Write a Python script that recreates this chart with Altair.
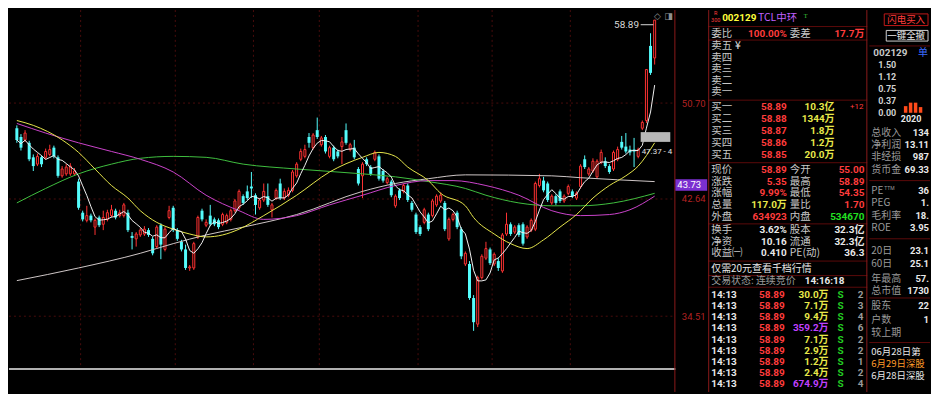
import altair as alt
import pandas as pd

# ======================= DATA =======================
# daily candles
opens = [48.45, 47.69, 47.44, 47.19, 45.97, 45.41, 45.97, 45.97, 46.21, 46.78,
         45.97, 44.46, 44.62, 44.62, 44.62, 44.00, 41.60, 41.03, 41.38, 40.53,
         41.24, 40.74, 41.10, 41.38, 41.75, 41.38, 41.38, 41.60, 39.89, 39.68,
         39.96, 40.03, 40.31, 39.68, 39.13, 40.67, 38.93, 41.24, 41.97, 40.31,
         39.47, 38.93, 37.65, 37.65, 39.82, 41.75, 40.67, 41.38, 41.10, 41.03,
         40.74, 40.88, 41.10, 41.75, 41.97, 42.86, 43.23, 43.61, 42.93, 41.97,
         42.56, 42.86, 41.82, 42.71, 43.85, 42.71, 42.93, 43.31, 44.46, 45.81,
         46.05, 47.69, 46.78, 48.28, 47.03, 47.69, 46.05, 46.78, 46.46, 46.87,
         48.28, 46.62, 46.78, 45.01, 44.46, 45.81, 45.17, 45.81, 46.05, 44.85,
         43.92, 44.00, 42.12, 43.31, 43.23, 43.69, 42.34, 41.46, 40.53, 40.88,
         41.46, 41.38, 42.19, 42.49, 42.34, 39.68, 41.10, 41.60, 40.38, 37.92,
         37.92, 35.66, 34.02, 37.00, 38.32, 38.93, 37.92, 38.12, 37.45, 40.03,
         40.74, 40.17, 40.67, 40.74, 39.82, 40.31, 40.38, 43.69, 44.08, 43.85,
         42.34, 42.86, 43.23, 42.49, 43.08, 43.23, 42.71, 43.61, 45.81, 44.62,
         44.85, 44.38, 45.57, 45.65, 45.25, 45.01, 45.81, 47.27, 46.87, 46.62,
         46.62, 46.05, 48.45, 49.13, 56.21, 55.00]
highs = [48.70, 47.94, 48.28, 47.36, 46.21, 46.29, 46.13, 46.70, 47.03, 46.95,
         46.13, 45.25, 45.41, 45.49, 45.09, 44.23, 41.75, 42.12, 41.53, 41.17,
         41.38, 41.75, 41.82, 42.19, 41.90, 41.82, 42.34, 41.82, 40.17, 40.17,
         40.46, 40.60, 40.46, 39.82, 40.67, 40.81, 40.53, 42.12, 42.12, 40.46,
         39.61, 39.27, 37.85, 39.47, 41.38, 41.90, 41.10, 42.19, 41.24, 41.17,
         41.60, 41.53, 41.90, 42.64, 43.38, 43.00, 43.69, 44.77, 43.08, 42.71,
         43.85, 43.85, 42.34, 43.46, 44.23, 43.46, 43.54, 44.93, 45.57, 46.70,
         47.03, 48.03, 48.03, 49.39, 47.78, 47.86, 46.95, 46.95, 46.62, 47.69,
         48.87, 47.19, 47.44, 45.17, 45.57, 45.97, 45.33, 46.54, 46.21, 45.01,
         44.38, 44.15, 43.00, 43.46, 43.85, 43.85, 42.49, 41.60, 40.67, 41.97,
         41.60, 42.64, 43.00, 43.16, 42.49, 41.24, 41.60, 41.75, 40.53, 38.79,
         38.12, 35.85, 37.13, 38.59, 39.47, 39.06, 38.72, 38.32, 40.10, 41.60,
         40.88, 40.67, 40.81, 40.88, 40.67, 41.17, 44.00, 44.62, 44.38, 44.00,
         43.00, 43.00, 43.38, 43.00, 43.77, 43.38, 43.23, 45.41, 46.13, 45.17,
         45.89, 45.81, 46.62, 45.97, 45.41, 46.54, 46.87, 47.78, 48.03, 46.95,
         47.61, 46.78, 49.13, 53.86, 57.51, 58.89]
lows = [47.19, 46.54, 47.27, 45.65, 44.85, 45.25, 45.17, 45.81, 46.05, 45.89,
        44.31, 44.31, 44.46, 44.46, 44.46, 41.82, 40.95, 40.88, 40.88, 39.96,
        40.53, 40.31, 40.95, 41.24, 41.10, 41.24, 41.24, 40.17, 38.93, 39.13,
        39.82, 39.89, 39.82, 38.52, 39.00, 38.25, 38.79, 41.10, 40.17, 39.54,
        38.79, 37.52, 37.45, 37.52, 39.68, 40.95, 40.53, 40.60, 40.60, 40.38,
        40.60, 40.74, 40.95, 41.60, 41.82, 42.19, 42.56, 42.71, 41.46, 41.82,
        42.41, 42.04, 41.24, 42.56, 42.56, 42.56, 42.78, 43.16, 44.31, 45.65,
        45.89, 46.78, 46.62, 47.52, 46.87, 46.29, 45.89, 45.65, 45.89, 45.41,
        47.03, 46.46, 45.81, 43.69, 42.71, 45.25, 44.46, 45.65, 44.08, 43.92,
        43.77, 42.78, 41.97, 42.56, 43.08, 42.41, 41.68, 40.03, 39.89, 40.74,
        40.24, 41.24, 42.04, 42.34, 40.24, 39.54, 40.95, 40.38, 38.25, 37.78,
        35.54, 33.61, 33.84, 36.87, 38.19, 37.85, 37.78, 37.45, 37.32, 39.89,
        39.89, 40.03, 39.82, 39.20, 39.68, 40.17, 40.24, 43.54, 43.16, 42.41,
        42.19, 42.19, 42.34, 42.34, 42.93, 42.71, 42.56, 43.46, 45.01, 44.46,
        44.70, 44.23, 45.41, 45.09, 44.62, 44.85, 45.65, 46.62, 46.29, 46.13,
        45.17, 45.89, 48.28, 48.90, 53.34, 54.35]
closes = [47.44, 46.78, 48.03, 45.81, 45.25, 46.05, 45.41, 46.46, 46.62, 46.05,
          44.46, 45.01, 45.17, 45.25, 44.85, 41.97, 41.10, 41.38, 41.03, 41.03,
          40.67, 41.24, 41.60, 41.82, 41.24, 41.60, 42.19, 40.31, 39.75, 40.03,
          40.31, 40.38, 39.96, 38.66, 40.53, 39.27, 40.38, 41.75, 40.31, 39.68,
          38.93, 37.65, 37.72, 39.34, 41.24, 41.10, 40.88, 40.74, 40.74, 40.53,
          41.46, 41.38, 41.75, 42.49, 43.23, 42.34, 42.71, 43.46, 42.19, 42.56,
          43.23, 42.19, 42.19, 43.31, 42.71, 43.23, 43.31, 44.77, 45.41, 46.46,
          46.62, 47.19, 47.86, 47.69, 47.61, 46.46, 46.78, 45.81, 46.05, 47.27,
          47.19, 47.03, 45.97, 43.85, 45.41, 45.41, 44.62, 46.38, 44.23, 44.08,
          44.23, 42.93, 42.86, 42.71, 43.69, 42.56, 41.82, 40.17, 40.03, 41.82,
          40.38, 42.49, 42.86, 42.93, 40.38, 41.10, 41.46, 40.53, 38.45, 38.66,
          35.66, 34.14, 37.00, 38.45, 38.99, 37.98, 38.59, 37.65, 39.96, 40.74,
          40.03, 40.53, 39.96, 39.34, 40.53, 41.03, 43.85, 44.23, 43.31, 42.56,
          42.86, 42.34, 42.49, 42.86, 43.61, 42.86, 43.08, 45.25, 45.17, 45.01,
          45.65, 45.65, 46.38, 45.25, 44.77, 46.38, 46.62, 46.78, 46.46, 46.38,
          46.46, 46.62, 48.96, 53.86, 53.54, 58.89]
idx = list(range(len(closes)))

# slower moving averages (candle index, price)
yellow_i = [0, 4, 11, 15, 19, 23, 27, 30, 34, 38, 42, 46, 50, 54, 60, 68, 76, 84, 88, 92, 95, 100,
            103, 109, 111, 116, 120, 124, 128, 132, 136, 140, 144, 148, 151, 155]
yellow_v = [49.13, 48.70, 47.44, 46.38, 45.01, 43.69, 42.71, 41.75, 40.88, 40.38, 40.03, 39.82, 39.96,
            40.38, 41.38, 42.93, 44.77, 45.97, 46.38, 46.05, 45.17, 44.08, 43.08, 42.12, 41.24, 40.03,
            39.34, 38.99, 39.61, 40.53, 41.46, 42.71, 43.69, 44.46, 45.25, 47.19]
purple_i = [0, 7, 15, 23, 30, 38, 46, 54, 60, 68, 76, 84, 92, 100, 106, 114, 122, 130, 137, 144, 149, 155]
purple_v = [48.87, 48.03, 47.19, 46.46, 45.81, 44.77, 42.93, 41.75, 41.10, 41.38, 42.19, 42.93, 43.69,
            44.08, 44.08, 43.69, 42.93, 41.75, 41.38, 41.46, 41.82, 42.86]
green_i = [0, 7, 15, 23, 30, 38, 46, 55, 68, 84, 92, 100, 109, 114, 122, 130, 137, 145, 155]
green_v = [42.34, 43.46, 44.62, 45.41, 45.89, 46.05, 45.97, 45.41, 45.01, 44.62, 44.38, 44.00, 43.46,
           42.93, 42.34, 42.12, 42.12, 42.34, 43.08]
long_i = [0, 15, 30, 38, 46, 55, 68, 84, 92, 100, 109, 130, 137, 155]
long_v = [36.80, 37.65, 38.66, 39.34, 39.96, 40.53, 41.46, 43.23, 43.85, 44.23, 44.54, 44.46, 44.31, 44.00]

month_breaks = [15.5, 38.5, 57.5, 73.5, 97.5, 115.5, 134.5]
axis_prices = [50.70, 42.64, 34.51]
marker_price = 43.73
high_price = 58.89
tip_box = {"i1": 151.6, "i2": 158.8, "p1": 48.11, "p2": 47.27}
tip_text = "47.37 - 4"

# ---- quote panel ----
stock_code = "002129"
stock_name = "TCL中环"
wb = ["委比", "100.00%", "委差", "17.7万"]
book_labels = ["卖五", "卖四", "卖三", "卖二", "卖一", "买一", "买二", "买三", "买四", "买五"]
book_prices = ["", "", "", "", "", "58.89", "58.88", "58.87", "58.86", "58.85"]
book_vols = ["", "", "", "", "", "10.3亿", "1344万", "1.8万", "1.2万", "20.0万"]
book_extra = ["", "", "", "", "", "+12", "", "", "", ""]
quote_l1 = ["现价", "涨跌", "涨幅", "总量", "外盘"]
quote_v1 = ["58.89", "5.35", "9.99%", "117.0万", "634923"]
quote_k1 = ["red", "red", "red", "yellow", "red"]
quote_l2 = ["今开", "最高", "最低", "量比", "内盘"]
quote_v2 = ["55.00", "58.89", "54.35", "1.70", "534670"]
quote_k2 = ["red", "red", "red", "red", "green"]
fin_l1 = ["换手", "净资", "收益㈠"]
fin_v1 = ["3.62%", "10.16", "0.410"]
fin_l2 = ["股本", "流通", "PE(动)"]
fin_v2 = ["32.3亿", "32.3亿", "36.3"]
ad_text = "仅需20元查看千档行情"
status_label = "交易状态: 连续竞价"
status_time = "14:16:18"
tick_times = ["14:13"] * 9
tick_prices = ["58.89"] * 9
tick_vols = ["30.0万", "7.1万", "9.4万", "359.2万", "7.1万", "2.9万", "1.2万", "2.4万", "674.9万"]
tick_big = [False, False, False, True, False, False, False, False, True]
tick_counts = ["2", "3", "4", "6", "2", "2", "1", "2", "4"]

# ---- far right panel ----
btn_labels = ["闪电买入", "一键全撤"]
eps_quarters = ["Q1", "Q2", "Q3", "Q4"]
eps_values = [0.21, 0.32, 0.32, 0.18]
eps_ticks = [1.50, 1.12, 0.75, 0.37, 0.00]
eps_year = "2020"
f_labels = ["总收入", "净利润", "非经损", "货币金", "PE", "PEG", "毛利率", "ROE",
            "20日", "60日", "年最高", "总市值", "股东", "户数", "较上期"]
f_values = ["134", "13.11", "987", "69.33", "36", "1.", "18.", "3.95",
            "23.1", "25.1", "57.", "1730", "22", "1", ""]
news = ["06月28日第", "6月29日深股", "6月28日深股"]
news_kind = ["white", "orange", "white"]

# ======================= STYLE / LAYOUT =======================
RED = "#ff3232"
CYAN = "#54fcfc"
GRID = "#4a0c0c"
BORDER = "#8b1a1a"
SEP = "#5c0a0a"
CJK = "Noto Sans CJK SC"
NUM = "Roboto, 'Noto Sans CJK SC'"
W, H = 670, 384

KINDS = ["label", "red", "yellow", "purple", "green", "white", "gray", "code", "name", "orange", "blue", "icon", "sgreen"]
KCOLS = ["#c8c8c8", "#ff3c3c", "#e8e84a", "#c040ff", "#22e022", "#e8e8e8", "#9a9a9a", "#ffff3c",
         "#c060ff", "#ff9a28", "#3b6cff", "#3cc83c", "#22c822"]
KSC = alt.Scale(domain=KINDS, range=KCOLS)

# ======================= MAIN K-LINE CHART =======================
xsc = alt.Scale(domain=[-0.7, 158.83], nice=False, zero=False)
ysc = alt.Scale(type="log", domain=[30.10, 59.97], nice=False)
yaxis = alt.Axis(orient="right", values=axis_prices, format=".2f", labelColor="#b22222",
                 labelFont="Roboto", labelFontSize=9.5, labelPadding=6, ticks=False,
                 domain=False, grid=False, title=None, minExtent=32, maxExtent=32)
X = alt.X("i:Q", scale=xsc, axis=None)


def Yq(f):
    return alt.Y(f + ":Q", scale=ysc, axis=yaxis)


cdf = pd.DataFrame({"i": idx, "open": opens, "high": highs, "low": lows, "close": closes})
cdf["dir"] = ["up" if c >= o else "down" for o, c in zip(opens, closes)]
base = alt.Chart(cdf)

vgrid = alt.Chart(pd.DataFrame({"b": month_breaks})).mark_rule(color=GRID, strokeDash=[2, 3]).encode(
    x=alt.X("b:Q", scale=xsc, axis=None), y=alt.value(0), y2=alt.value(361))
hgrid = alt.Chart(pd.DataFrame({"p": axis_prices})).mark_rule(color=GRID, strokeDash=[2, 3]).encode(
    y=Yq("p"), x=alt.value(0), x2=alt.value(W))
bottom_sep = alt.Chart(pd.DataFrame({"a": [0]})).mark_rule(color="#b0b0b0", strokeWidth=2).encode(
    x=alt.value(0), x2=alt.value(W), y=alt.value(361))
right_border = alt.Chart(pd.DataFrame({"a": [0]})).mark_rule(color=BORDER).encode(
    x=alt.value(W - 0.5), y=alt.value(0), y2=alt.value(H))

wick_up = base.transform_filter("datum.dir == 'up'").mark_rule(color=RED, strokeWidth=1).encode(
    x=X, y=Yq("low"), y2="high:Q")
wick_dn = base.transform_filter("datum.dir == 'down'").mark_rule(color=CYAN, strokeWidth=1).encode(
    x=X, y=Yq("low"), y2="high:Q")
body_up = base.transform_filter("datum.dir == 'up'").mark_bar(
    size=2, fill="#000000", stroke=RED, strokeWidth=1).encode(x=X, y=Yq("open"), y2="close:Q")
body_dn = base.transform_filter("datum.dir == 'down'").mark_bar(size=3, color=CYAN).encode(
    x=X, y=Yq("open"), y2="close:Q")


def ma_line(ii, vv, color):
    return alt.Chart(pd.DataFrame({"i": ii, "v": vv})).mark_line(
        color=color, strokeWidth=1, interpolate="monotone").encode(x=X, y=Yq("v"))


ma_long = ma_line(long_i, long_v, "#d0c8c8")
ma_green = ma_line(green_i, green_v, "#3fbf3f")
ma_purple = ma_line(purple_i, purple_v, "#cc44cc")
ma_yellow = ma_line(yellow_i, yellow_v, "#e6e64c")
ma5 = base.transform_window(ma5="mean(close)", frame=[-4, 0], sort=[alt.SortField("i")]).mark_line(
    color="#f0f0f0", strokeWidth=1).encode(x=X, y=Yq("ma5"))

hi_df = pd.DataFrame({"i": [151.2], "p": [high_price], "t": [f"{high_price:.2f}"],
                      "i1": [151.6], "i2": [154.7], "pa": [58.40]})
hi_text = alt.Chart(hi_df).mark_text(align="right", font="Roboto", fontSize=10, color="#d8d8d8", dy=5).encode(
    x=X, y=Yq("p"), text="t:N")
hi_arrow = alt.Chart(hi_df).mark_rule(color="#d8d8d8").encode(
    x=alt.X("i1:Q", scale=xsc, axis=None), x2="i2:Q", y=Yq("pa"))

tip_df = pd.DataFrame({k: [v] for k, v in tip_box.items()})
tip_df["t"] = tip_text
tip_rect = alt.Chart(tip_df).mark_rect(color="#b8b8b8").encode(
    x=alt.X("i1:Q", scale=xsc, axis=None), x2="i2:Q", y=Yq("p1"), y2="p2:Q")
tip_label = alt.Chart(tip_df).mark_text(align="left", font="Roboto", fontSize=8, color="#e0e0e0", dx=1, dy=10).encode(
    x=alt.X("i1:Q", scale=xsc, axis=None), y=Yq("p2"), text="t:N")

icon1 = alt.Chart(pd.DataFrame({"t": ["◇"]})).mark_text(font="DejaVu Sans", fontSize=9, color="#909090").encode(
    x=alt.value(652), y=alt.value(6), text="t:N")
icon2 = alt.Chart(pd.DataFrame({"t": ["◨"]})).mark_text(font="DejaVu Sans", fontSize=9, color="#909090").encode(
    x=alt.value(663), y=alt.value(6), text="t:N")

mk_df = pd.DataFrame({"p": [marker_price], "t": [f"{marker_price:.2f}"]})
mk_box = alt.Chart(mk_df).mark_point(shape="M-1,-0.36H1V0.36H-1Z", size=1024, filled=True,
                                     color="#7b2fd0", opacity=1, strokeWidth=0).encode(
    x=alt.value(W + 16), y=Yq("p"))
mk_text = alt.Chart(mk_df).mark_text(align="left", font="Roboto", fontSize=9.5, color="#ffffff").encode(
    x=alt.value(W + 2), y=Yq("p"), text="t:N")

main = alt.layer(
    vgrid, hgrid, bottom_sep,
    wick_up, wick_dn, body_up, body_dn,
    ma_long, ma_green, ma_purple, ma_yellow, ma5,
    tip_rect, tip_label, hi_arrow, hi_text, icon1, icon2,
    right_border, mk_box, mk_text,
).properties(width=W, height=H)

# ======================= QUOTE PANEL =======================
PW = 160
PROW = {"hR": 3.2, "h3": 10.4, "hdr": 7.8, "wb": 24.4,
        "b0": 36.1, "b1": 47.8, "b2": 59.5, "b3": 71.1, "b4": 82.8,
        "b5": 97.5, "b6": 109.5, "b7": 121.5, "b8": 133.8, "b9": 146.2,
        "q0": 160.8, "q1": 172.6, "q2": 184.4, "q3": 196.2, "q4": 208.0,
        "f0": 221.4, "f1": 233.1, "f2": 244.8, "ad": 260.2, "st": 272.9,
        "t0": 286.5, "t1": 297.7, "t2": 308.9, "t3": 320.1, "t4": 331.4,
        "t5": 342.6, "t6": 353.8, "t7": 365.0, "t8": 376.2}
PCOL = {"L": 3, "BP": 79, "BV": 127, "BX": 156, "Y": 27, "V1": 79, "L2": 82, "V2": 157,
        "TP": 77, "TV": 121, "TS": 133, "TC": 156, "HB": 7.5, "HC": 14, "HN": 50, "HI": 96, "ST": 97}
PSEP = [16.6, 30.2, 90.6, 153.5, 215.0, 252.4, 267.0, 278.7]

recs = []


def put(row, col, text, kind, style):
    if text != "":
        recs.append({"px": PCOL[col], "py": PROW[row], "text": text, "kind": kind, "style": style})


put("hR", "HB", "R", "red", "tiny")
put("h3", "HB", "300", "red", "tiny")
put("hdr", "HC", stock_code, "code", "numL")
put("hdr", "HN", stock_name, "name", "lab")
put("hdr", "HI", "ᵀ", "icon", "lab")
put("wb", "L", wb[0], "label", "lab")
put("wb", "V1", wb[1], "red", "numR")
put("wb", "L2", wb[2], "label", "lab")
put("wb", "V2", wb[3], "red", "numR")
for k in range(10):
    r = f"b{k}"
    put(r, "L", book_labels[k], "label", "lab")
    put(r, "BP", book_prices[k], "red", "numR")
    put(r, "BV", book_vols[k], "yellow", "numR")
    put(r, "BX", book_extra[k], "red", "small")
put("b0", "Y", "¥", "white", "lab")
for k in range(5):
    r = f"q{k}"
    put(r, "L", quote_l1[k], "label", "lab")
    put(r, "V1", quote_v1[k], quote_k1[k], "numR")
    put(r, "L2", quote_l2[k], "label", "lab")
    put(r, "V2", quote_v2[k], quote_k2[k], "numR")
for k in range(3):
    r = f"f{k}"
    put(r, "L", fin_l1[k], "label", "lab")
    put(r, "V1", fin_v1[k], "white", "numR")
    put(r, "L2", fin_l2[k], "label", "lab")
    put(r, "V2", fin_v2[k], "white", "numR")
put("ad", "L", ad_text, "white", "labS")
put("st", "L", status_label, "gray", "labS")
put("st", "ST", status_time, "white", "numL")
for k in range(9):
    r = f"t{k}"
    put(r, "L", tick_times[k], "white", "numL")
    put(r, "TP", tick_prices[k], "red", "numR")
    put(r, "TV", tick_vols[k], "purple" if tick_big[k] else "yellow", "numR")
    put(r, "TS", "S", "sgreen", "numC")
    put(r, "TC", tick_counts[k], "gray", "numR")

pdf = pd.DataFrame(recs)


def tlayer(df, style, align, font, size, weight="normal"):
    return alt.Chart(df).transform_filter(alt.datum.style == style).mark_text(
        align=align, font=font, fontSize=size, fontWeight=weight, lineHeight=size).encode(
        x=alt.X("px:Q", scale=None, axis=None), y=alt.Y("py:Q", scale=None, axis=None),
        text="text:N", color=alt.Color("kind:N", scale=KSC, legend=None))


psep = alt.Chart(pd.DataFrame({"sy": PSEP})).mark_rule(color=SEP).encode(
    y=alt.Y("sy:Q", scale=None, axis=None), x=alt.value(0), x2=alt.value(PW))
pborder_l = alt.Chart(pd.DataFrame({"a": [0]})).mark_rule(color=BORDER).encode(
    x=alt.value(0.5), y=alt.value(0), y2=alt.value(H))
pborder_r = alt.Chart(pd.DataFrame({"a": [0]})).mark_rule(color=BORDER).encode(
    x=alt.value(PW - 0.5), y=alt.value(0), y2=alt.value(H))

panel = alt.layer(
    psep, pborder_l, pborder_r,
    tlayer(pdf, "lab", "left", CJK, 10.5),
    tlayer(pdf, "labS", "left", CJK, 10),
    tlayer(pdf, "numR", "right", NUM, 10, "bold"),
    tlayer(pdf, "numL", "left", NUM, 10, "bold"),
    tlayer(pdf, "numC", "center", NUM, 10, "bold"),
    tlayer(pdf, "small", "right", NUM, 8),
    tlayer(pdf, "tiny", "center", NUM, 5.5),
).properties(width=PW, height=H)

# ======================= FAR RIGHT PANEL =======================
FW = 61
FROW = {"btn0": 9.7, "btn1": 26.0, "code": 42.9, "yr": 109.2,
        "r0": 123.8, "r1": 136.0, "r2": 148.2, "r3": 160.4, "r4": 182.3, "r5": 194.5, "r6": 206.7,
        "r7": 218.9, "r8": 242.7, "r9": 254.9, "r10": 270.0, "r11": 282.2, "r12": 298.0,
        "r13": 311.5, "r14": 325.0, "n0": 344.0, "n1": 355.9, "n2": 367.8, "ttm": 178.5}
FCOL = {"L": 2, "R": 60, "C": 4, "DJ": 49, "YR": 42, "BTN": 37, "TTM": 15}
FBX = {"Q1": 36.5, "Q2": 41.5, "Q3": 46.5, "Q4": 51.5}
FSEP = [36.1, 171.5, 230.0, 289.5, 334.3]
BTN_BOX = {"x1": [15, 17], "x2": [59, 59], "y1": [3.9, 20.5], "y2": [15.6, 31.2]}
BTN_COL = ["#c01818", "#d0d0d0"]

frecs = []


def fput(row, col, text, kind, style):
    if text != "":
        frecs.append({"px": FCOL[col], "py": FROW[row], "text": text, "kind": kind, "style": style})


fput("btn0", "BTN", btn_labels[0], "red", "btn")
fput("btn1", "BTN", btn_labels[1], "white", "btn")
fput("code", "C", stock_code, "label", "fnumL")
fput("code", "DJ", "单", "blue", "flab")
fput("yr", "YR", eps_year, "white", "fnumC")
for k in range(len(f_labels)):
    r = f"r{k}"
    fput(r, "L", f_labels[k], "gray", "flab")
    fput(r, "R", f_values[k], "white", "fnum")
fput("ttm", "TTM", "TTM", "gray", "ftiny")
for k in range(3):
    fput(f"n{k}", "L", news[k], news_kind[k], "fnews")
fdf = pd.DataFrame(frecs)

msc = alt.Scale(domain=[0, 1.5], range=[103.3, 55.6], nice=False, zero=False)
eps_df = pd.DataFrame({"q": eps_quarters, "v": eps_values, "bx": [FBX[q] for q in eps_quarters]})
eps_bars = alt.Chart(eps_df).mark_bar(size=3.5, color="#ff4a1a").encode(
    x=alt.X("bx:Q", scale=None, axis=None), y=alt.Y("v:Q", scale=msc, axis=None), y2=alt.datum(0))
eps_lab_df = pd.DataFrame({"v": eps_ticks, "t": [f"{v:.2f}" for v in eps_ticks]})
eps_labels = alt.Chart(eps_lab_df).mark_text(align="right", font="Roboto", fontSize=9,
                                             fontWeight="bold", color="#d0d0d0").encode(
    x=alt.value(27), y=alt.Y("v:Q", scale=msc, axis=None), text="t:N")

btn_df = pd.DataFrame(BTN_BOX)
btn_df["c"] = BTN_COL
btn_rect = alt.Chart(btn_df).mark_rect(filled=False, strokeWidth=1).encode(
    x=alt.X("x1:Q", scale=None, axis=None), x2="x2:Q",
    y=alt.Y("y1:Q", scale=None, axis=None), y2="y2:Q",
    stroke=alt.Stroke("c:N", scale=None))
fsep = alt.Chart(pd.DataFrame({"sy": FSEP})).mark_rule(color=SEP).encode(
    y=alt.Y("sy:Q", scale=None, axis=None), x=alt.value(0), x2=alt.value(FW))

far = alt.layer(
    fsep, btn_rect, eps_bars, eps_labels,
    tlayer(fdf, "btn", "center", CJK, 9.5),
    tlayer(fdf, "flab", "left", CJK, 10),
    tlayer(fdf, "fnews", "left", CJK, 9.5),
    tlayer(fdf, "fnum", "right", NUM, 9.5, "bold"),
    tlayer(fdf, "fnumL", "left", NUM, 10, "bold"),
    tlayer(fdf, "fnumC", "center", NUM, 9, "bold"),
    tlayer(fdf, "ftiny", "left", NUM, 5),
).resolve_scale(y="independent", x="independent").properties(width=FW, height=H)

chart = alt.hconcat(main, panel, far, spacing=0, padding=0, background="#000000").configure_view(strokeWidth=0)
chart.save("out.html", embed_options={"renderer": "svg", "actions": False})
